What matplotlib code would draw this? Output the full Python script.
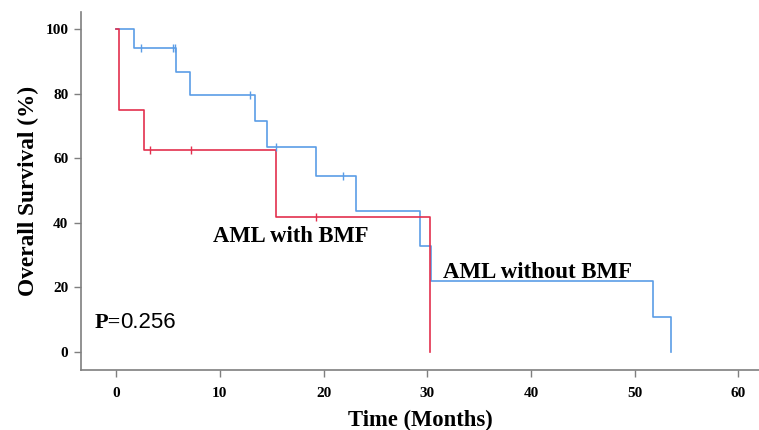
import numpy as np
import matplotlib.pyplot as plt

# curva sin BMF (azul)
t_sin = [0, 1.7, 5.8, 7.1, 13.4, 14.5, 19.3, 23.1, 29.3, 30.4, 51.8, 53.5]
s_sin = [100, 94.1, 86.7, 79.6, 71.6, 63.6, 54.6, 43.7, 32.8, 21.9, 10.9, 0]
cens_t_sin = [2.4, 5.5, 5.7, 12.9, 15.4, 21.9]
cens_s_sin = [94.1, 94.1, 94.1, 79.6, 63.6, 54.6]

# curva con BMF (rojo)
t_con = [0, 0.3, 0.3, 2.7, 15.4, 30.3]
s_con = [100, 87.5, 75, 62.5, 41.7, 0]
cens_t_con = [3.3, 7.2, 19.3]
cens_s_con = [62.5, 62.5, 41.7]

azul = '#5b9de6'
rojo = '#e3304e'
gris = '#7f7f7f'
serif = 'Liberation Serif'

fig = plt.figure(figsize=(7.59, 4.30), dpi=100)
ax = fig.add_axes([0.1067, 0.1395, 0.8933, 0.8325])

ax.step(t_sin, s_sin, where='post', c=azul, lw=1.2)
ax.step(t_con, s_con, where='post', c=rojo, lw=1.2)
ax.plot(cens_t_sin, cens_s_sin, ls='none', marker='|', ms=6, mew=1.0, c=azul)
ax.plot(cens_t_con, cens_s_con, ls='none', marker='|', ms=6, mew=1.0, c=rojo)

ax.set_xlim(-3.4, 62)
ax.set_ylim(-5.6, 105.3)
ax.set_xticks([0, 10, 20, 30, 40, 50, 60])
ax.set_yticks([0, 20, 40, 60, 80, 100])

for s in ['top', 'right']:
    ax.spines[s].set_visible(False)
for s in ['left', 'bottom']:
    ax.spines[s].set_color(gris)
    ax.spines[s].set_linewidth(1.2)
ax.tick_params(colors=gris, length=5, width=1, pad=4)
for lab in ax.get_xticklabels() + ax.get_yticklabels():
    lab.set_family(serif)
    lab.set_fontweight('bold')
    lab.set_fontsize(11)
    lab.set_color('black')
ax.tick_params(axis='x', pad=7)

ax.set_xlabel('Time (Months)', family=serif, fontweight='bold', fontsize=16.3, labelpad=7)
ax.set_ylabel('Overall Survival (%)', family=serif, fontweight='bold', fontsize=16.8, labelpad=5)

ax.text(9.3, 34.1, 'AML with BMF', family=serif, fontweight='bold', fontsize=16.3, va='baseline')
ax.text(31.5, 23.0, 'AML without BMF', family=serif, fontweight='bold', fontsize=16.5, va='baseline')
ax.text(-2.05, 7.4, 'P=', family=serif, fontweight='bold', fontsize=16, va='baseline')
ax.text(0.35, 7.4, '0.256', family='Liberation Sans', fontsize=16, va='baseline')

fig.savefig('out.png', dpi=100)
